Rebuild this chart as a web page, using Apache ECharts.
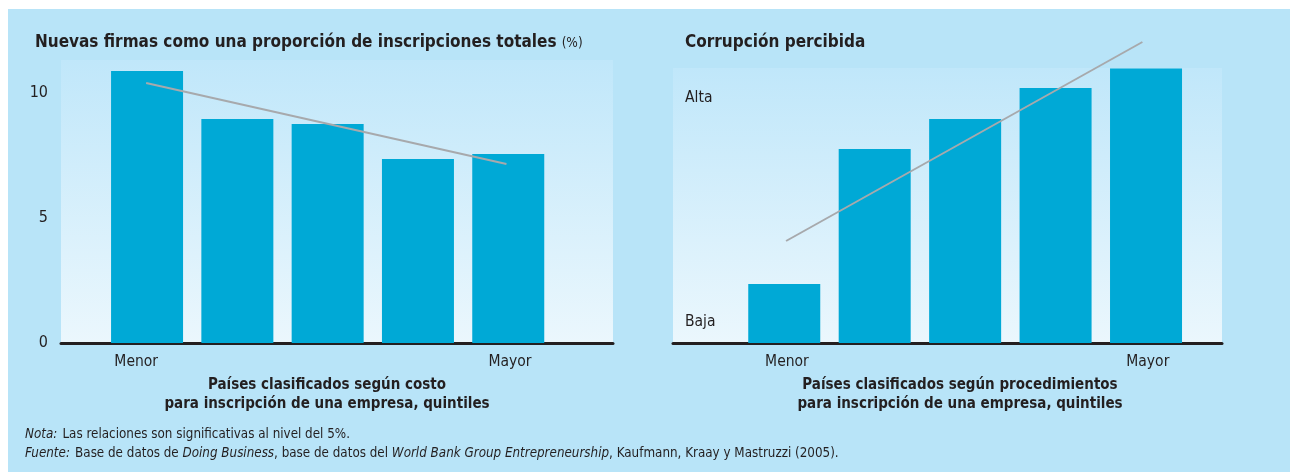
<!DOCTYPE html>
<html>
<head>
<meta charset="utf-8">
<script src="https://cdn.jsdelivr.net/npm/echarts@6/dist/echarts.min.js"></script>
<style>
  html, body { margin: 0; padding: 0; background: #fff; }
  #chart { width: 1290px; height: 472px; }
</style>
</head>
<body>
<div id="chart"></div>
<script>
  // quintile positions (1 = menor ... 5 = mayor)
  var quintiles = [1, 2, 3, 4, 5]
  // left: new firms as share of total registrations (%)
  var firmasValues = [10.88, 8.96, 8.76, 7.36, 7.56]
  var firmasTrend = [[0.99, 10.4], [4.98, 7.16]]
  var firmasTicks = [0, 5, 10]
  // right: perceived corruption (scale baja -> alta)
  var corrupcionValues = [2.36, 7.76, 8.96, 10.2, 10.98]
  var corrupcionTrend = [[1.02, 4.08], [4.96, 12.04]]
  var corrupcionTicks = [0.84, 9.8]
  var corrupcionTickLabels = ['Baja', 'Alta']
  // x labels
  var leftXTicks = [0.88, 5.02]
  var rightXTicks = [1.03, 5.02]
  var xTickLabels = ['Menor', 'Mayor']

  var font = '"Liberation Sans Narrow", "DejaVu Sans Condensed", "Open Sans", sans-serif'
  var ink = '#231f20'
  var barColor = '#00a9d6'
  var trendColor = '#a7a9ac'

  function panelFill () {
    return new echarts.graphic.LinearGradient(0, 0, 0, 1, [
      {offset: 0, color: '#c0e7fa'},
      {offset: 1, color: '#ebf7fd'}
    ])
  }

  var myChart = echarts.init(document.getElementById('chart'))
  myChart.setOption({
    backgroundColor: '#fff',
    animation: false,
    textStyle: {fontFamily: font},
    graphic: [
      {
        type: 'rect',
        z: -10,
        shape: {x: 8, y: 9, width: 1282, height: 463},
        style: {fill: '#b8e4f8'}
      }
    ],
    title: [
      {
        left: 35, top: 34, padding: 0,
        text: '{b|Nuevas firmas como una proporción de inscripciones totales} {r|(%)}',
        textStyle: {
          fontWeight: 'normal',
          rich: {
            b: {fontFamily: font, fontSize: 17, fontWeight: 'bold', color: ink},
            r: {fontFamily: font, fontSize: 13.5, fontWeight: 'normal', color: ink}
          }
        }
      },
      {
        left: 685, top: 34, padding: 0,
        text: 'Corrupción percibida',
        textStyle: {fontFamily: font, fontSize: 17, fontWeight: 'bold', color: ink}
      },
      {
        left: 327, top: 375, textAlign: 'center', padding: 0,
        text: 'Países clasificados según costo\npara inscripción de una empresa, quintiles',
        textStyle: {fontFamily: font, fontSize: 15, fontWeight: 'bold', color: ink, lineHeight: 19.5, align: 'center'}
      },
      {
        left: 960, top: 375, textAlign: 'center', padding: 0,
        text: 'Países clasificados según procedimientos\npara inscripción de una empresa, quintiles',
        textStyle: {fontFamily: font, fontSize: 15, fontWeight: 'bold', color: ink, lineHeight: 19.5, align: 'center'}
      },
      {
        left: 25, top: 425, padding: 0,
        text: '{i|Nota:} {n|Las relaciones son significativas al nivel del 5%.}\n' +
          '{i|Fuente:} {n|Base de datos de }{i|Doing Business}{n|, base de datos del }' +
          '{i|World Bank Group Entrepreneurship}{n|, Kaufmann, Kraay y Mastruzzi (2005).}',
        textStyle: {
          fontWeight: 'normal',
          lineHeight: 19,
          rich: {
            i: {fontFamily: font, fontSize: 13.3, fontStyle: 'italic', fontWeight: 'normal', color: ink, lineHeight: 19},
            n: {fontFamily: font, fontSize: 13.3, fontWeight: 'normal', color: ink, lineHeight: 19}
          }
        }
      }
    ],
    grid: [
      {left: 61, top: 60, width: 552, height: 283, show: true, borderWidth: 0, backgroundColor: panelFill()},
      {left: 673, top: 68, width: 549, height: 275, show: true, borderWidth: 0, backgroundColor: panelFill()}
    ],
    xAxis: [
      {
        gridIndex: 0, type: 'value', min: 0.047, max: 6.16,
        splitLine: {show: false}, axisTick: {show: false},
        axisLine: {show: true, lineStyle: {color: ink, width: 3}},
        axisLabel: {
          customValues: leftXTicks, margin: 11, fontSize: 15.5, color: ink, fontFamily: font,
          formatter: function (v) { return xTickLabels[leftXTicks.indexOf(v)] }
        }
      },
      {
        gridIndex: 1, type: 'value', min: -0.23, max: 5.84,
        splitLine: {show: false}, axisTick: {show: false},
        axisLine: {show: true, lineStyle: {color: ink, width: 3}},
        axisLabel: {
          customValues: rightXTicks, margin: 11, fontSize: 15.5, color: ink, fontFamily: font,
          formatter: function (v) { return xTickLabels[rightXTicks.indexOf(v)] }
        }
      }
    ],
    yAxis: [
      {
        gridIndex: 0, type: 'value', min: 0, max: 11.32,
        splitLine: {show: false}, axisTick: {show: false}, axisLine: {show: false},
        axisLabel: {customValues: firmasTicks, margin: 13, fontSize: 16, color: ink, fontFamily: font}
      },
      {
        gridIndex: 1, type: 'value', min: 0, max: 11,
        splitLine: {show: false}, axisTick: {show: false}, axisLine: {show: false},
        axisLabel: {
          customValues: corrupcionTicks, inside: true, margin: 12, fontSize: 15.5, color: ink, fontFamily: font,
          formatter: function (v) { return corrupcionTickLabels[corrupcionTicks.indexOf(v)] }
        }
      }
    ],
    series: [
      {
        type: 'bar', xAxisIndex: 0, yAxisIndex: 0, barWidth: 72,
        itemStyle: {color: barColor},
        data: quintiles.map(function (q, i) { return [q, firmasValues[i]] })
      },
      {
        type: 'line', xAxisIndex: 0, yAxisIndex: 0, clip: false, symbol: 'none', z: 5,
        lineStyle: {color: trendColor, width: 2},
        data: firmasTrend
      },
      {
        type: 'bar', xAxisIndex: 1, yAxisIndex: 1, barWidth: 72,
        itemStyle: {color: barColor},
        data: quintiles.map(function (q, i) { return [q, corrupcionValues[i]] })
      },
      {
        type: 'line', xAxisIndex: 1, yAxisIndex: 1, clip: false, symbol: 'none', z: 5,
        lineStyle: {color: trendColor, width: 2},
        data: corrupcionTrend
      }
    ]
  })
</script>
</body>
</html>
